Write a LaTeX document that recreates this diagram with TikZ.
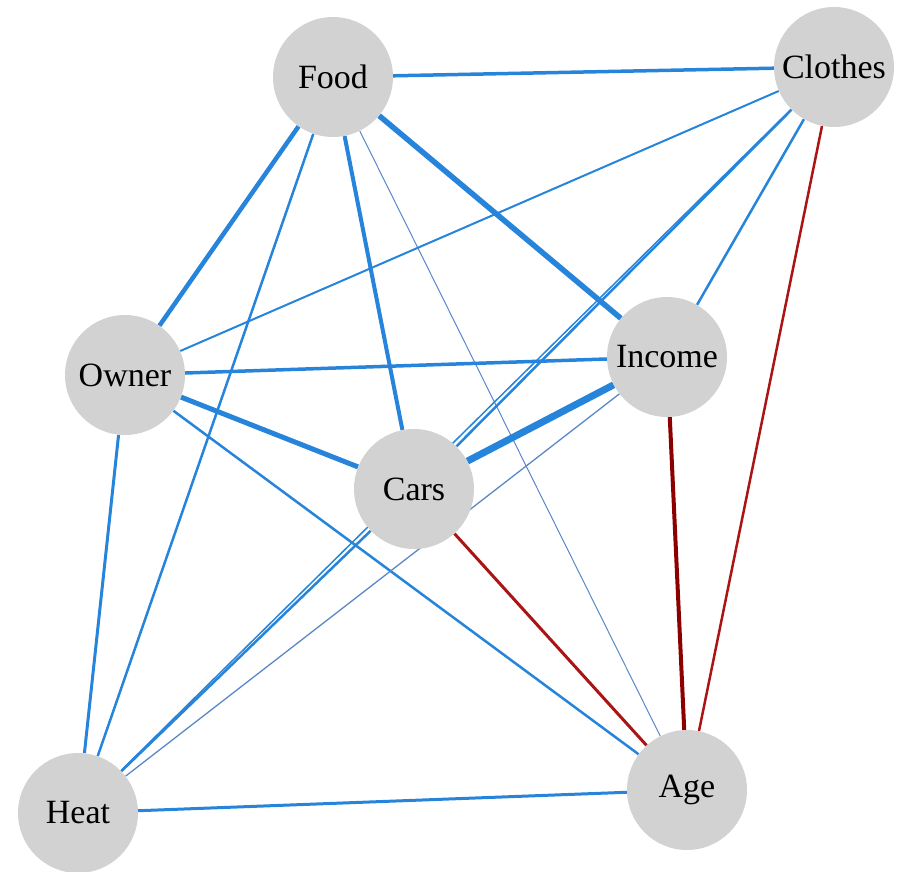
\documentclass[tikz,border=0pt]{standalone}
\usepackage{fontspec}
\setmainfont{Liberation Serif}
\usetikzlibrary{backgrounds}
\definecolor{eblue}{RGB}{38,132,218}
\definecolor{ethin}{RGB}{90,135,200}
\definecolor{ered}{RGB}{170,20,20}
\definecolor{edred}{RGB}{140,0,0}
\definecolor{nodegray}{RGB}{210,210,210}
\tikzset{
  vnode/.style={circle, fill=nodegray, minimum size=120pt, inner sep=0pt,
    font=\fontsize{34}{38}\selectfont},
  pos/.style={draw=eblue, line width=#1pt},
  neg/.style={draw=ered, line width=#1pt},
}
\begin{document}
\begin{tikzpicture}[x=1pt, y=-1pt]
\useasboundingbox (0,0) rectangle (902,872);
\node[vnode] (food) at (333,77) {Food};
\node[vnode] (clothes) at (834,67) {Clothes};
\node[vnode] (owner) at (125,375) {Owner};
\node[vnode] (income) at (667,357) {Income};
\node[vnode] (cars) at (414,489) {Cars};
\node[vnode] (heat) at (78,813) {Heat};
\node[vnode] (age) at (687,790) {Age};
\begin{scope}[on background layer]
\draw[pos=3.5] (food) -- (clothes);
\draw[pos=4.5] (food) -- (owner);
\draw[pos=2.5] (food) -- (heat);
\draw[pos=4] (food) -- (cars);
\draw[draw=ethin, line width=1pt] (food) -- (age);
\draw[pos=5.5] (food) -- (income);
\draw[pos=2] (clothes) -- (owner);
\draw[pos=2.5] (clothes) -- (cars);
\draw[pos=1.5] (clothes) -- (heat);
\draw[pos=2.5] (clothes) -- (income);
\draw[neg=2.5] (clothes) -- (age);
\draw[pos=3.5] (owner) -- (income);
\draw[pos=5] (owner) -- (cars);
\draw[pos=2.5] (owner) -- (age);
\draw[pos=3] (owner) -- (heat);
\draw[pos=7] (income) -- (cars);
\draw[draw=ethin, line width=1.3pt] (income) -- (heat);
\draw[draw=edred, line width=4pt] (income) -- (age);
\draw[pos=2.5] (cars) -- (heat);
\draw[neg=3] (cars) -- (age);
\draw[pos=3] (heat) -- (age);
\end{scope}
\end{tikzpicture}
\end{document}
